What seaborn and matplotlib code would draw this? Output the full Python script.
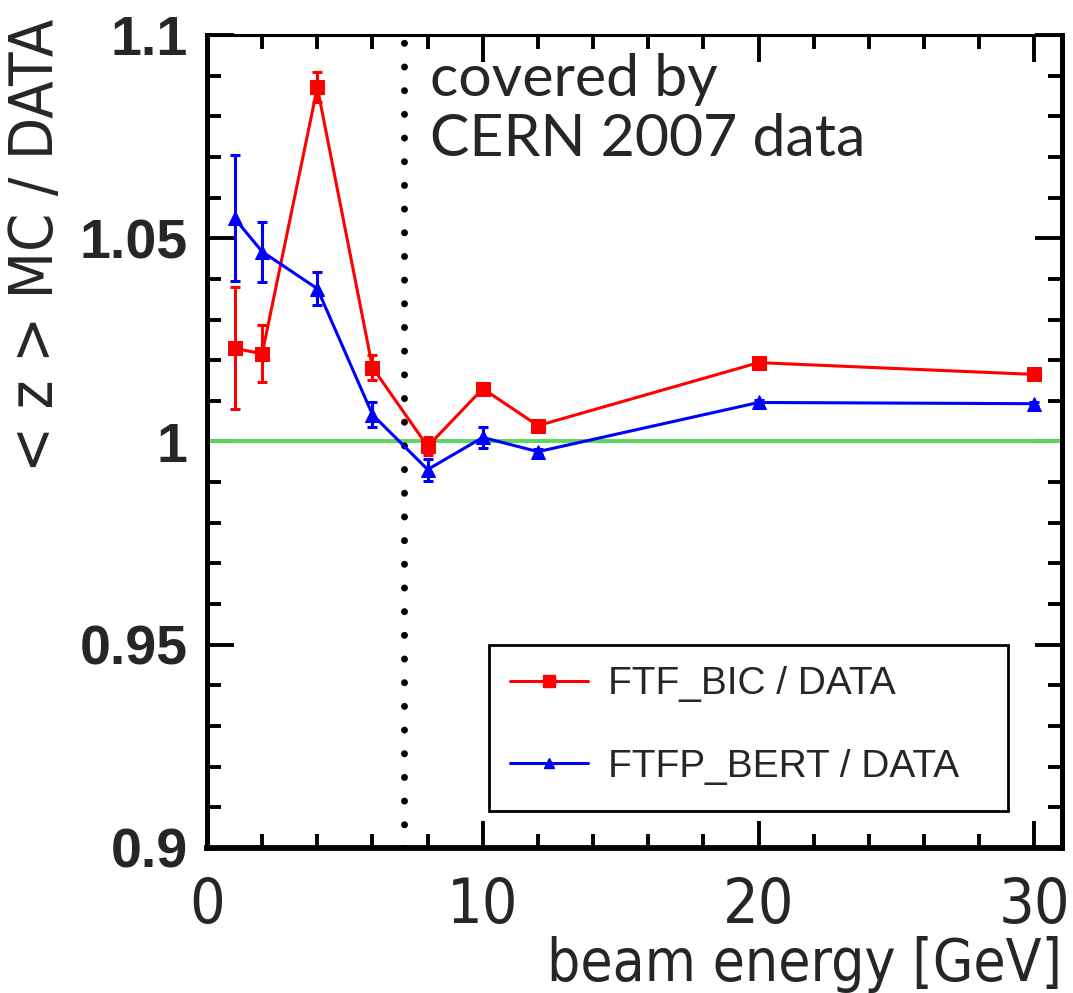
import matplotlib
matplotlib.use("Agg")
import matplotlib.pyplot as plt
import numpy as np
import pandas as pd
import seaborn as sns
from matplotlib.lines import Line2D
from matplotlib.patches import Rectangle
from matplotlib.ticker import MultipleLocator, FuncFormatter

# Beam energies [GeV]
energy = [1, 2, 4, 6, 8, 10, 12, 20, 30]

# <z> ratio MC / DATA for each physics list, with uncertainties
ftf_bic = [1.0229, 1.0216, 1.0871, 1.0182, 0.9988, 1.0130, 1.0039, 1.0194, 1.0165]
ftf_bic_err = [0.0150, 0.0070, 0.0037, 0.0030, 0.0022, 0.0008, 0.0006, 0.0005, 0.0005]
ftfp_bert = [1.0549, 1.0467, 1.0376, 1.0066, 0.9931, 1.0010, 0.9975, 1.0096, 1.0093]
ftfp_bert_err = [0.0155, 0.0074, 0.0041, 0.0031, 0.0027, 0.0025, 0.0006, 0.0005, 0.0005]

labels = ["FTF_BIC / DATA", "FTFP_BERT / DATA"]
colors = {"FTF_BIC / DATA": "#ff0000", "FTFP_BERT / DATA": "#0000ff"}
markers = {"FTF_BIC / DATA": "s", "FTFP_BERT / DATA": "^"}

cern2007_limit = 7.15  # energies below this are covered by CERN 2007 data
x_ticks = [0, 10, 20, 30]
y_ticks = [0.9, 0.95, 1.0, 1.05, 1.1]

df = pd.concat([
    pd.DataFrame({"energy": energy, "ratio": ftf_bic, "err": ftf_bic_err, "model": labels[0]}),
    pd.DataFrame({"energy": energy, "ratio": ftfp_bert, "err": ftfp_bert_err, "model": labels[1]}),
], ignore_index=True)

sns.set_theme(style="ticks")
plt.rcParams["font.family"] = ["Liberation Sans", "DejaVu Sans"]

narrow = dict(family=["DejaVu Sans"], stretch="condensed")

fig = plt.figure(figsize=(10.73, 9.93), dpi=100)
ax = fig.add_axes([207 / 1073, 1 - 848 / 993, (1062 - 207) / 1073, (848 - 35) / 993])

# reference line at unity
ax.axhline(1.0, color="#5cd65c", lw=2.8, zorder=1)

# coverage boundary
ax.axvline(cern2007_limit, color="black", lw=5.0, ls=(0, (0.01, 3.4)),
           dash_capstyle="round", zorder=2)

# error bars
for name, sub in df.groupby("model", sort=False):
    ax.errorbar(sub["energy"], sub["ratio"], yerr=sub["err"], fmt="none",
                ecolor=colors[name], elinewidth=2.2, capsize=3.8, capthick=2.2, zorder=3)

sns.lineplot(data=df, x="energy", y="ratio", hue="model", style="model",
             palette=colors, markers=markers, dashes=False, markersize=10,
             linewidth=2.2, sort=False, errorbar=None,
             legend=False, ax=ax, zorder=4)
for ln in ax.lines[-2:]:
    ln.set_markeredgecolor(ln.get_color())

ax.set_xlim(0, 31)
ax.set_ylim(0.9, 1.1)
ax.set_xticks(x_ticks)
ax.set_yticks(y_ticks)
ax.xaxis.set_minor_locator(MultipleLocator(2))
ax.yaxis.set_minor_locator(MultipleLocator(0.01))
ax.yaxis.set_major_formatter(FuncFormatter(lambda v, p: f"{v:g}"))

ax.tick_params(which="both", direction="in", top=True, right=True, width=2.8, color="black")
ax.tick_params(which="major", length=19.5)
ax.tick_params(which="minor", length=10)
ax.tick_params(axis="y", which="major", pad=14, labelsize=40)
ax.tick_params(axis="x", which="major", pad=20, labelsize=45)
for lab in ax.get_yticklabels():
    lab.set_fontfamily(["Liberation Sans", "DejaVu Sans"])
    lab.set_fontweight("bold")
for lab in ax.get_xticklabels():
    lab.set_fontfamily(narrow["family"])
    lab.set_fontstretch(narrow["stretch"])

for side, w in [("left", 3.6), ("bottom", 4.2), ("right", 3.6), ("top", 2.2)]:
    ax.spines[side].set_visible(True)
    ax.spines[side].set_linewidth(w)
    ax.spines[side].set_color("black")

ax.set_xlabel("beam energy [GeV]", fontsize=42, ha="right", x=1.0, labelpad=0, **narrow)
ax.set_ylabel("< z > MC / DATA", fontsize=44, ha="right", y=1.02, labelpad=10, **narrow)

ax.text(8.1, 1.0955, "covered by\nCERN 2007 data", fontsize=42.5, va="top", ha="left",
        family=["Lato", "DejaVu Sans"], linespacing=1.15)

# legend box
box_x0, box_x1 = (489 - 207) / 855, (1008 - 207) / 855
box_y0, box_y1 = (848 - 811) / 813, (848 - 645) / 813
ax.add_patch(Rectangle((box_x0, box_y0), box_x1 - box_x0, box_y1 - box_y0,
                       transform=ax.transAxes, facecolor="white", edgecolor="black",
                       lw=2.0, zorder=5))

handles = [Line2D([], [], color=colors[l], marker=markers[l], lw=2.2,
                  markersize=8 if markers[l] == "s" else 7, markeredgecolor=colors[l])
           for l in labels]
leg = ax.legend(handles, labels, loc="upper left", bbox_to_anchor=(box_x0, box_y1),
                fontsize=28, frameon=False, handlelength=2.0, handletextpad=0.5,
                labelspacing=1.2, borderpad=0.55, borderaxespad=0.0)
leg.set_zorder(6)
for t in leg.get_texts():
    t.set_fontfamily(["Liberation Sans", "DejaVu Sans"])

fig.savefig("out.png", dpi=100, facecolor="white")
